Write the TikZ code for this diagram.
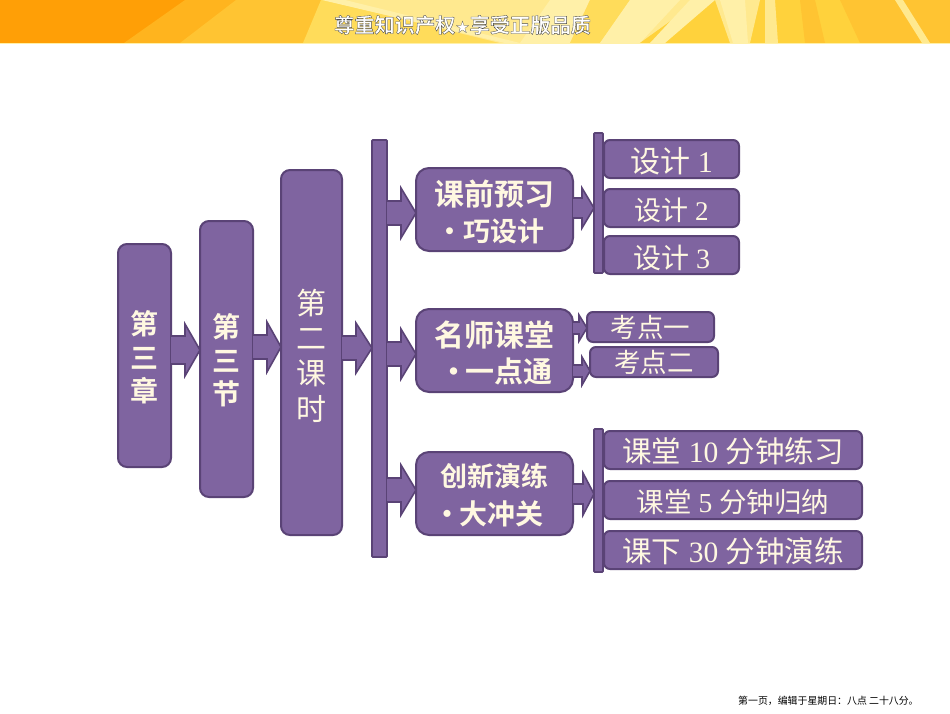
\documentclass[tikz,border=0pt]{standalone}
\usepackage{fontspec}
\usetikzlibrary{calc}
\setmainfont{Liberation Serif}
\newfontfamily\cjk{Noto Sans CJK SC}
\newfontfamily\cjkb{Noto Sans CJK SC Bold}
\newfontfamily\bannerfont[FakeBold=1.7]{Noto Sans CJK SC Bold}
\newfontfamily\symfont[FakeBold=1.2]{DejaVu Sans}
\newcommand\dropby[2]{\raisebox{-#1}[\height][\depth]{#2}}
\definecolor{boxfill}{HTML}{7F64A0}
\definecolor{boxline}{HTML}{5A4376}
\definecolor{boxtext}{HTML}{FFF8E1}
\definecolor{banA}{HTML}{FF9F06}
\definecolor{banB}{HTML}{FFB41E}
\definecolor{banC}{HTML}{FFC432}
\definecolor{banD}{HTML}{FFDC5A}
\definecolor{banE}{HTML}{FFE98F}
\definecolor{banF}{HTML}{FFF0A8}
\definecolor{banG}{HTML}{FFD23C}
\tikzset{
  purple box/.style={draw=boxline,fill=boxfill,line width=2pt,text=boxtext,align=center,inner sep=0pt,outer sep=0pt},
  tall box/.style={purple box,rounded corners=9pt},
  big box/.style={purple box,rounded corners=13pt,minimum width=157pt,minimum height=83pt},
  small box/.style={purple box,rounded corners=6pt},
  vbar/.style={draw=boxline,fill=boxfill,line width=1.8pt,inner sep=0pt,outer sep=0pt,rounded corners=0.8pt},
  block arrow/.style={draw=boxline,fill=boxfill,line width=1.6pt,line join=miter},
  ray/.style={fill=#1,draw=none}
}
% from node, to node, y, half shaft, half head, head length
\newcommand\blockarrow[6]{%
  \coordinate (bas) at (#1.east |- 0,#3);
  \coordinate (bat) at (#2.west |- 0,#3);
  \draw[block arrow] ($(bas)+(0,-#4)$) -- ($(bat)+(-#6,-#4)$) -- ($(bat)+(-#6,-#5)$) -- (bat)
     -- ($(bat)+(-#6,#5)$) -- ($(bat)+(-#6,#4)$) -- ($(bas)+(0,#4)$);
}
\begin{document}
\begin{tikzpicture}[x=1pt,y=-1pt]
\useasboundingbox (0,0) rectangle (950,713);
\fill[white] (0,0) rectangle (950,713);
% banner
\begin{scope}
\clip (0,0) rectangle (950,43);
\fill[ray=banA] (0,0) rectangle (950,43);
\fill[ray=banB] (185,0) -- (950,0) -- (950,43) -- (124,43) -- cycle;
\fill[ray=banC] (236,0) -- (950,0) -- (950,43) -- (180,43) -- cycle;
\fill[ray=banD] (321,0) -- (950,0) -- (950,43) -- (303,43) -- cycle;
\fill[ray=banE] (325,0) -- (700,0) -- (640,43) -- (500,43) -- cycle;
\fill[ray=banF] (322,0) -- (345,0) -- (520,43) -- (505,43) -- cycle;
\fill[ray=banF] (550,0) -- (590,0) -- (570,43) -- (520,43) -- cycle;
\fill[ray=banD] (590,0) -- (630,0) -- (600,43) -- (570,43) -- cycle;
\fill[ray=banF] (630,0) -- (680,0) -- (640,43) -- (600,43) -- cycle;
\fill[ray=banG] (700,0) -- (950,0) -- (950,43) -- (640,43) -- cycle;
\fill[ray=banF] (690,0) -- (715,0) -- (665,43) -- (650,43) -- cycle;
\fill[ray=banE] (715,0) -- (760,0) -- (750,43) -- (730,43) -- cycle;
\fill[ray=banF] (720,0) -- (745,0) -- (748,43) -- (733,43) -- cycle;
\fill[ray=banE] (765,0) -- (775,0) -- (778,43) -- (765,43) -- cycle;
\fill[ray=banC] (800,0) -- (815,0) -- (825,43) -- (805,43) -- cycle;
\fill[ray=banC] (840,0) -- (950,0) -- (950,43) -- (860,43) -- cycle;
\fill[ray=banE] (895,0) -- (903,0) -- (930,43) -- (922,43) -- cycle;
\end{scope}
\fill[banF] (0,43) rectangle (950,44);
\node[inner sep=0pt] (banner) at (462.5,25) {\special{pdf:bcolor [1 1 1] [0.3 0.3 0.3]}{\fontsize{20.2}{22}\bannerfont\selectfont 尊重知识产权}{\fontsize{16}{22}\symfont\selectfont ★}{\fontsize{20.2}{22}\bannerfont\selectfont 享受正版品质}\special{pdf:ecolor}};
% level 1
\node[tall box,minimum width=53pt,minimum height=223pt,font=\fontsize{28}{34}\cjkb\selectfont] (ch) at (144.5,355.5) {\dropby{2pt}{第}\\\dropby{2pt}{三}\\\dropby{1pt}{章}};
\node[tall box,minimum width=53pt,minimum height=276pt,font=\fontsize{28}{34}\cjkb\selectfont] (sec) at (226.5,359) {\dropby{2pt}{第}\\\dropby{2pt}{三}\\\dropby{1pt}{节}};
\node[tall box,minimum width=61pt,minimum height=365pt,font=\fontsize{30}{35}\cjk\selectfont] (per) at (311.5,352.5) {\dropby{3pt}{第}\\\dropby{3pt}{二}\\\dropby{3pt}{课}\\\dropby{4pt}{时}};
\node[vbar,minimum width=15pt,minimum height=417pt] (bar) at (379.5,348.5) {};
% level 2
\node[big box,font=\fontsize{30}{37}\cjkb\selectfont] (pre) at (494.5,209.5) {\dropby{3pt}{课前预习}\\\dropby{2pt}{\fontsize{27}{37}\selectfont ·巧设计}\hspace*{8pt}};
\node[big box,font=\fontsize{30}{37}\cjkb\selectfont] (mid) at (494.5,350.5) {\dropby{3pt}{名师课堂}\\\hspace*{2pt}\dropby{2pt}{\fontsize{29}{37}\selectfont ·\hspace{-3pt}一点通}};
\node[big box,font=\fontsize{27}{37}\cjkb\selectfont] (inn) at (494.5,493.5) {\dropby{1pt}{创新演练}\\\dropby{2pt}{\fontsize{28}{37}\selectfont ·\hspace{-2pt}大冲关}\hspace*{12pt}};
\node[vbar,minimum width=9pt,minimum height=140pt] (bara) at (598.5,203) {};
\node[vbar,minimum width=9pt,minimum height=143pt] (barc) at (598.5,500.5) {};
% level 3
\node[small box,minimum width=135pt,minimum height=38pt] (d1) at (671.5,159) {\dropby{2pt}{\fontsize{30}{34}\selectfont{\cjk 设计} 1}};
\node[small box,minimum width=135pt,minimum height=38pt] (d2) at (671.5,208) {\dropby{2pt}{\fontsize{27}{34}\selectfont{\cjk 设计} 2}};
\node[small box,minimum width=135pt,minimum height=38pt] (d3) at (671.5,255) {\dropby{3pt}{\fontsize{28}{34}\selectfont{\cjk 设计} 3}};
\node[small box,minimum width=127pt,minimum height=30pt,font=\fontsize{26.5}{30}\cjk\selectfont] (k1) at (650.5,327) {考点一};
\node[small box,minimum width=128pt,minimum height=30pt,font=\fontsize{26.5}{30}\cjk\selectfont] (k2) at (654,362) {考点二};
\node[small box,minimum width=258pt,minimum height=38pt] (e1) at (733,450) {\dropby{1pt}{\fontsize{29.5}{34}\selectfont{\cjk 课堂} 10 {\cjk 分钟练习}}};
\node[small box,minimum width=258pt,minimum height=38pt] (e2) at (733,500) {\dropby{2pt}{\fontsize{27.5}{34}\selectfont{\cjk 课堂} 5 {\cjk 分钟归纳}}};
\node[small box,minimum width=258pt,minimum height=38pt] (e3) at (733,550) {\dropby{1pt}{\fontsize{29.5}{34}\selectfont{\cjk 课下} 30 {\cjk 分钟演练}}};
% connectors
\blockarrow{ch}{sec}{350}{14}{26}{15}
\blockarrow{sec}{per}{347}{12}{25}{14}
\blockarrow{per}{bar}{348}{12}{25}{16}
\blockarrow{bar}{pre}{213}{12}{25}{15}
\blockarrow{bar}{mid}{354}{12}{25}{15}
\blockarrow{bar}{inn}{490}{12}{25}{15}
\blockarrow{pre}{bara}{208}{10}{20}{12}
\blockarrow{inn}{barc}{494}{10}{21}{11}
\blockarrow{mid}{k1}{328}{6}{13}{8}
\blockarrow{mid}{k2}{371}{6}{14}{8}
% footer
\node[inner sep=0pt,anchor=west,text=black,font=\fontsize{9.9}{12}\cjk\selectfont] (foot) at (738,700.5) {第一页，编辑于星期日：八点 二十八分。};
\end{tikzpicture}
\end{document}
